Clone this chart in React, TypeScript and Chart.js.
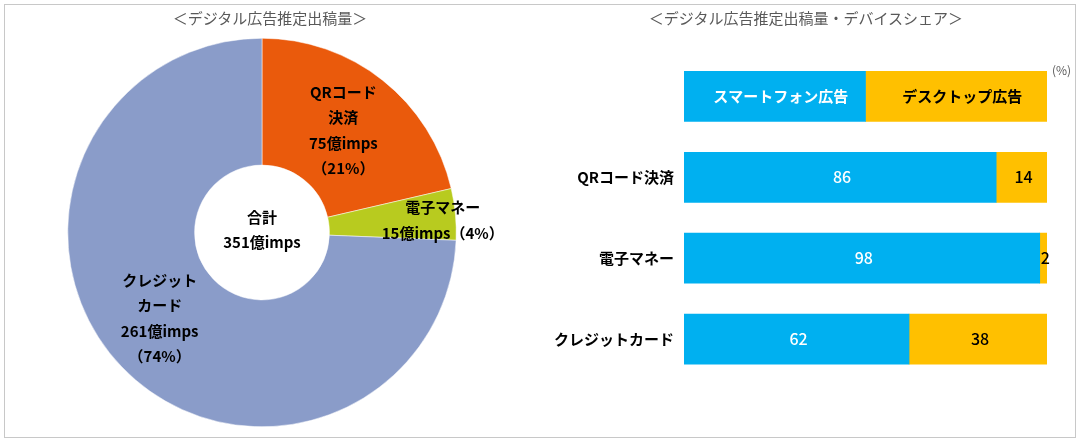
import React, { useEffect, useRef } from 'react';
import { Chart, registerables } from 'chart.js';

Chart.register(...registerables);

const FONT = "'Noto Sans CJK JP', 'Noto Sans', sans-serif";

// ---- Doughnut data (億imps) ----
const paymentCategories = ['QRコード決済', '電子マネー', 'クレジットカード'];
const donutNameLines = [['QRコード', '決済'], ['電子マネー'], ['クレジット', 'カード']];
const impressions = [75, 15, 261];
const donutColors = ['#EA5A0C', '#B8CB1F', '#8A9CC9'];

// ---- Device share data (%) ----
const deviceNames = ['スマートフォン広告', 'デスクトップ広告'];
const barCategories = ['', 'QRコード決済', '電子マネー', 'クレジットカード'];
const smartphoneShare = [50, 86, 98, 62];
const desktopShare = [50, 14, 2, 38];

// label placement style (ring ratio, px offsets)
const donutLabelRing = [0.5, 0.9, 0.5];
const donutLabelOffset = [[0, 0], [0, 5], [-8, -5]];

const total = impressions.reduce((a, b) => a + b, 0);

const donutLabels = {
  id: 'donutLabels',
  afterDatasetsDraw(chart: any) {
    const ctx = chart.ctx;
    const meta = chart.getDatasetMeta(0);
    const lh = 25.5;
    ctx.save();
    ctx.font = `bold 15px ${FONT}`;
    ctx.fillStyle = '#000000';
    ctx.textAlign = 'center';
    ctx.textBaseline = 'middle';
    meta.data.forEach((arc: any, i: number) => {
      const p = arc.getProps(['x', 'y', 'startAngle', 'endAngle', 'innerRadius', 'outerRadius'], true);
      const mid = (p.startAngle + p.endAngle) / 2;
      const r = p.innerRadius + donutLabelRing[i] * (p.outerRadius - p.innerRadius);
      const cx = p.x + Math.cos(mid) * r + donutLabelOffset[i][0];
      const cy = p.y + Math.sin(mid) * r + donutLabelOffset[i][1];
      const v = impressions[i];
      const pct = Math.round((v / total) * 100);
      let lines: string[];
      if (donutNameLines[i].length === 1) {
        lines = [...donutNameLines[i], `${v}億imps（${pct}%）`];
      } else {
        lines = [...donutNameLines[i], `${v}億imps`, `（${pct}%）`];
      }
      const start = cy - ((lines.length - 1) * lh) / 2;
      lines.forEach((t, k) => ctx.fillText(t, cx, start + k * lh));
    });
    // centre text
    const a0 = meta.data[0];
    if (a0) {
      const c = a0.getProps(['x', 'y'], true);
      ctx.fillText('合計', c.x, c.y - 15.5);
      ctx.fillText(`${total}億imps`, c.x, c.y + 9.5);
    }
    ctx.restore();
  },
};

const barLabels = {
  id: 'barLabels',
  afterDatasetsDraw(chart: any) {
    const ctx = chart.ctx;
    chart.data.datasets.forEach((ds: any, di: number) => {
      const meta = chart.getDatasetMeta(di);
      meta.data.forEach((el: any, i: number) => {
        const p = el.getProps(['x', 'y', 'base'], true);
        const cx = (p.x + p.base) / 2;
        const isLegend = i === 0;
        const text = isLegend ? ds.label : String(ds.data[i]);
        ctx.save();
        ctx.font = isLegend ? `bold 15px ${FONT}` : `500 16px ${FONT}`;
        ctx.fillStyle = di === 0 ? '#ffffff' : '#000000';
        ctx.textAlign = 'center';
        ctx.textBaseline = 'middle';
        ctx.fillText(text, cx + (isLegend ? 6 : 2), p.y);
        ctx.restore();
      });
    });
  },
};

export default function App() {
  const donutRef = useRef<HTMLCanvasElement | null>(null);
  const barRef = useRef<HTMLCanvasElement | null>(null);

  useEffect(() => {
    const donut = new Chart(donutRef.current as HTMLCanvasElement, {
      type: 'doughnut',
      data: {
        labels: paymentCategories,
        datasets: [
          {
            data: impressions,
            backgroundColor: donutColors,
            borderWidth: 0.5,
            borderColor: '#ffffff',
          },
        ],
      },
      options: {
        responsive: false,
        animation: false,
        cutout: '34.7%',
        rotation: 0,
        layout: { padding: { left: 67.5, right: 83.5, top: 38, bottom: 17 } },
        plugins: { legend: { display: false }, tooltip: { enabled: false } },
      },
      plugins: [donutLabels],
    } as any);

    const bar = new Chart(barRef.current as HTMLCanvasElement, {
      type: 'bar',
      data: {
        labels: barCategories,
        datasets: [
          { label: deviceNames[0], data: smartphoneShare, backgroundColor: '#00B0F0', barThickness: 50, borderWidth: 0 },
          { label: deviceNames[1], data: desktopShare, backgroundColor: '#FFC000', barThickness: 50, borderWidth: 0 },
        ],
      },
      options: {
        indexAxis: 'y',
        responsive: false,
        animation: false,
        layout: { padding: { left: 0, right: 38, top: 56, bottom: 64.5 } },
        scales: {
          x: { stacked: true, min: 0, max: 100, display: false },
          y: {
            stacked: true,
            grid: { display: false, drawTicks: false },
            border: { display: false },
            ticks: { padding: 10, color: '#000000', font: { family: FONT, size: 15, weight: 'bold' } },
            afterFit: (s: any) => {
              s.width = 144;
            },
          },
        },
        plugins: { legend: { display: false }, tooltip: { enabled: false } },
      },
      plugins: [barLabels],
    } as any);

    return () => {
      donut.destroy();
      bar.destroy();
    };
  }, []);

  const titleStyle: React.CSSProperties = {
    position: 'absolute',
    top: 8,
    fontSize: 15,
    lineHeight: '20px',
    color: '#595959',
    textAlign: 'center',
    fontFamily: FONT,
    whiteSpace: 'nowrap',
  };

  return (
    <div style={{ position: 'absolute', left: 0, top: 0, width: 1085, height: 444, background: '#ffffff', overflow: 'hidden' }}>
      <div
        style={{
          position: 'absolute',
          left: 4,
          top: 4,
          width: 1072,
          height: 434,
          boxSizing: 'border-box',
          border: '1px solid #C8C8C8',
        }}
      />
      <canvas
        ref={donutRef}
        width={540}
        height={444}
        style={{ position: 'absolute', left: 0, top: 0, width: 540, height: 444 }}
      />
      <canvas
        ref={barRef}
        width={545}
        height={444}
        style={{ position: 'absolute', left: 540, top: 0, width: 545, height: 444 }}
      />
      <div style={{ ...titleStyle, left: 0, width: 540 }}>＜デジタル広告推定出稿量＞</div>
      <div style={{ ...titleStyle, left: 540, width: 532 }}>＜デジタル広告推定出稿量・デバイスシェア＞</div>
      <div
        style={{
          position: 'absolute',
          left: 1052,
          top: 61,
          fontSize: 12,
          lineHeight: '18px',
          color: '#595959',
          fontFamily: FONT,
        }}
      >
        (%)
      </div>
    </div>
  );
}
